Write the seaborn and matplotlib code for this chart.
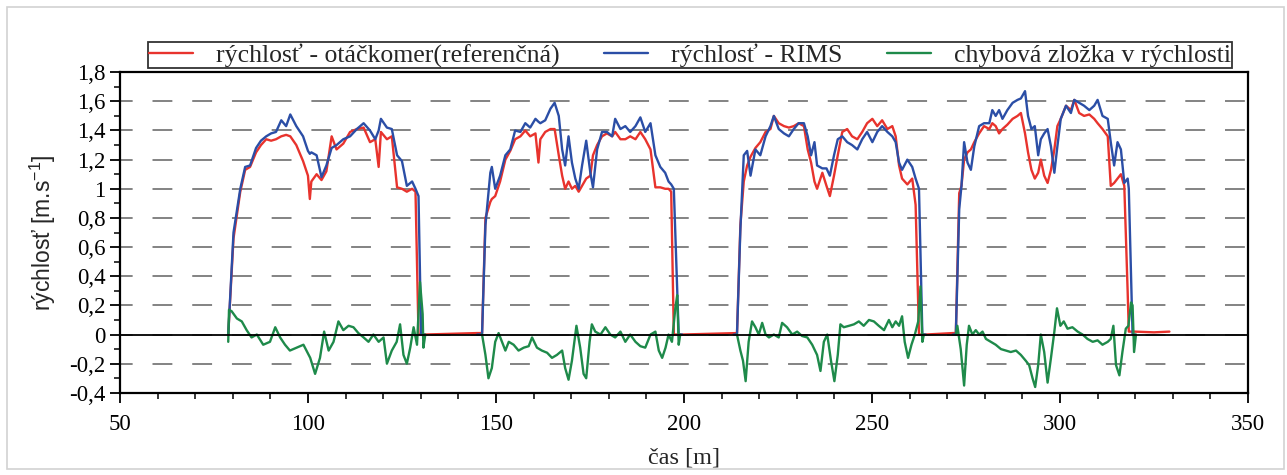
import numpy as np
import pandas as pd
import matplotlib
matplotlib.use("Agg")
import matplotlib.pyplot as plt
import seaborn as sns
from matplotlib.lines import Line2D
from matplotlib.patches import Rectangle
from matplotlib.ticker import MultipleLocator

#------------------------------------------------------------------------------------------
# values (t = čas [m], v = rýchlosť [m/s])

# hump 1
t1    = [78.8, 80.2, 82.0, 83.3, 84.6, 86.2, 87.5, 88.9, 90.2, 91.5, 92.9, 94.2, 95.3, 96.9, 98.7,
         100.0, 100.5, 100.9, 102.3, 103.6, 104.9, 106.3, 107.6, 109.4, 111.2, 113.0, 114.8, 116.5,
         117.9, 118.8, 119.4, 121.0, 122.3, 123.7, 125.0, 126.3, 127.7, 128.6, 129.4, 130.1, 131.0]
ref1  = [0.00, 0.66, 0.98, 1.13, 1.15, 1.25, 1.30, 1.34, 1.33, 1.34, 1.36, 1.37, 1.36, 1.30, 1.19,
         1.09, 0.93, 1.05, 1.10, 1.06, 1.12, 1.36, 1.27, 1.31, 1.39, 1.41, 1.42, 1.32,
         1.34, 1.15, 1.39, 1.34, 1.36, 1.01, 1.00, 0.98, 1.00, 0.98, 0.00, 0.00, 0.00]
rims1 = [0.00, 0.70, 1.00, 1.15, 1.16, 1.28, 1.33, 1.36, 1.38, 1.39, 1.47, 1.43, 1.51, 1.43, 1.36,
         1.26, 1.24, 1.25, 1.23, 1.08, 1.16, 1.28, 1.30, 1.34, 1.36, 1.41, 1.45, 1.40,
         1.34, 1.40, 1.48, 1.42, 1.41, 1.23, 1.19, 1.02, 1.05, 1.00, 0.95, 0.00, 0.00]
et1   = [78.8, 79.0, 79.7, 81.1, 82.4, 83.7, 85.0, 86.4, 88.1, 89.9, 91.3, 92.6, 93.9, 95.2, 97.0,
         98.8, 100.6, 101.9, 103.2, 104.3, 105.5, 106.8, 108.1, 109.4, 110.8, 112.1, 113.4, 114.8,
         116.1, 117.4, 118.8, 120.1, 121.0, 122.3, 123.6, 124.5, 125.4, 126.3, 127.2, 128.1, 129.0,
         129.8, 130.5, 130.7, 131.2]
err1  = [-0.05, 0.17, 0.16, 0.11, 0.09, 0.03, -0.02, 0.00, -0.07, -0.05, 0.05, -0.02, -0.07, -0.11, -0.09,
         -0.07, -0.16, -0.27, -0.16, 0.02, -0.11, -0.05, 0.09, 0.03, 0.06, 0.05, 0.01, -0.02,
         -0.05, 0.00, -0.05, -0.02, -0.20, -0.11, -0.05, 0.07, -0.14, -0.20, -0.09, 0.05, -0.07,
         0.36, 0.14, -0.09, 0.00]

# hump 2
t2    = [145.0, 146.3, 147.2, 148.5, 148.9, 149.8, 151.1, 152.5, 153.8, 155.1,
         156.5, 157.8, 159.1, 160.5, 161.3, 161.8, 163.1, 164.5, 165.6, 166.7,
         167.6, 168.4, 169.3, 170.2, 171.1, 172.0, 172.9, 174.0, 175.1, 175.8,
         176.9, 178.2, 179.5, 180.9, 181.7, 183.1, 184.4, 185.7, 187.1, 188.4,
         189.7, 191.1, 192.4, 193.7, 195.0, 195.9, 196.6, 197.3, 198.6, 199.5]
ref2  = [0.01, 0.01, 0.80, 0.91, 0.93, 0.95, 1.05, 1.20, 1.26, 1.34,
         1.36, 1.40, 1.36, 1.38, 1.18, 1.34, 1.39, 1.41, 1.41, 1.23,
         1.09, 1.00, 1.05, 1.00, 1.02, 0.98, 1.02, 1.07, 1.09, 1.23,
         1.30, 1.36, 1.38, 1.36, 1.39, 1.34, 1.34, 1.36, 1.34, 1.39,
         1.34, 1.27, 1.01, 1.01, 1.00, 1.00, 0.98, 0.00, 0.00, 0.00]
rims2 = [0.00, 0.00, 0.75, 1.11, 1.15, 1.00, 1.09, 1.23, 1.27, 1.40,
         1.39, 1.45, 1.42, 1.48, 1.46, 1.45, 1.47, 1.55, 1.59, 1.50,
         1.27, 1.16, 1.36, 1.18, 1.07, 1.00, 1.16, 1.33, 1.11, 1.01,
         1.27, 1.39, 1.39, 1.36, 1.48, 1.41, 1.43, 1.39, 1.43, 1.49,
         1.39, 1.45, 1.23, 1.15, 1.11, 1.05, 1.03, 1.00, 0.00, 0.00]
et2   = [146.3, 147.2, 148.0, 148.9, 149.8, 150.7, 151.6, 152.5, 153.4, 154.7, 156.0, 157.4,
         158.7, 159.6, 160.9, 162.2, 163.6, 164.9, 166.2, 167.6, 168.4, 169.3, 170.2, 171.4,
         172.4, 173.3, 174.0, 174.9, 175.5, 176.4, 177.8, 179.1, 180.4, 181.7, 183.1, 184.4,
         185.7, 187.1, 188.4, 189.7, 191.1, 192.4, 193.3, 194.2, 195.1, 195.9, 196.8, 197.7,
         198.2, 198.6, 199.0]
err2  = [0.00, -0.14, -0.30, -0.23, -0.05, 0.01, -0.05, -0.11, -0.05, -0.07, -0.11, -0.09,
         -0.08, -0.02, -0.09, -0.11, -0.125, -0.16, -0.14, -0.11, -0.23, -0.31, -0.18, 0.06,
         -0.09, -0.27, -0.30, -0.05, 0.07, 0.02, 0.00, 0.05, 0.00, -0.02, 0.02, -0.05,
         0.00, -0.05, -0.08, -0.09, 0.00, 0.02, -0.11, -0.16, -0.09, 0.00, -0.05, 0.18,
         0.27, -0.07, 0.00]

# hump 3
t3    = [213.2, 214.1, 215.0, 215.9, 216.8, 217.7, 219.0, 220.3, 221.7, 223.0,
         223.9, 225.2, 226.6, 227.9, 229.2, 230.5, 231.9, 232.9, 233.8, 234.7,
         235.4, 236.8, 237.9, 238.8, 239.9, 240.9, 242.1, 243.4, 244.7, 246.1,
         247.4, 248.7, 250.1, 251.4, 252.7, 254.1, 255.4, 256.3, 257.2, 258.0,
         259.4, 260.7, 261.6, 262.5, 263.4, 264.3]
ref3  = [0.01, 0.01, 0.75, 1.05, 1.16, 1.22, 1.28, 1.32, 1.39, 1.41,
         1.50, 1.45, 1.43, 1.42, 1.43, 1.45, 1.43, 1.27, 1.18, 1.05,
         1.00, 1.11, 1.02, 0.95, 1.09, 1.23, 1.39, 1.41, 1.36, 1.34,
         1.39, 1.45, 1.48, 1.43, 1.47, 1.41, 1.43, 1.36, 1.16, 1.07,
         1.03, 1.07, 0.89, 0.00, 0.00, 0.00]
rims3 = [0.00, 0.00, 0.72, 1.23, 1.26, 1.09, 1.27, 1.23, 1.36, 1.43,
         1.50, 1.41, 1.38, 1.36, 1.41, 1.45, 1.45, 1.36, 1.23, 1.32,
         1.16, 1.14, 1.14, 1.09, 1.23, 1.34, 1.36, 1.32, 1.30, 1.27,
         1.34, 1.39, 1.32, 1.39, 1.43, 1.39, 1.36, 1.32, 1.18, 1.13,
         1.20, 1.15, 1.07, 1.00, 0.00, 0.00]
et3   = [214.1, 215.0, 215.7, 216.4, 217.2, 218.1, 219.0, 219.9, 220.8, 221.7, 222.6, 223.9,
         225.2, 226.1, 227.4, 228.8, 230.1, 231.4, 232.8, 234.1, 235.4, 236.3, 237.2, 238.1,
         239.1, 240.0, 240.9, 241.6, 242.5, 243.9, 245.2, 246.5, 247.8, 249.2, 250.5, 251.8,
         253.2, 254.5, 255.4, 256.3, 257.2, 258.0, 258.7, 259.6, 260.5, 261.4, 262.3, 262.9,
         263.4, 263.8]
err3  = [0.00, -0.11, -0.18, -0.32, -0.05, 0.09, 0.05, 0.00, 0.08, 0.00, -0.02, 0.00,
         -0.02, 0.08, 0.05, 0.00, 0.02, -0.01, -0.02, -0.07, -0.14, -0.25, -0.05, 0.00,
         -0.18, -0.32, -0.14, 0.07, 0.05, 0.06, 0.07, 0.09, 0.06, 0.10, 0.09, 0.06,
         0.03, 0.10, 0.05, 0.09, 0.06, 0.125, -0.05, -0.16, -0.07, 0.00, 0.09, 0.33,
         -0.05, 0.00]

# hump 4
t4    = [271.5, 272.3, 273.2, 273.8, 274.5, 275.4, 276.3, 277.2, 278.5, 279.8,
         281.2, 282.0, 282.9, 283.8, 284.7, 286.0, 287.4, 288.7, 289.6, 290.7,
         291.5, 292.4, 293.3, 294.2, 294.9, 295.8, 296.7, 297.6, 298.5, 299.3,
         300.2, 301.6, 302.9, 303.8, 305.1, 306.4, 307.8, 309.1, 310.0, 311.3,
         312.7, 313.5, 314.4, 315.3, 316.2, 317.1, 318.0, 318.3, 319.3, 320.0]
ref4  = [0.01, 0.01, 0.97, 1.02, 1.20, 1.25, 1.27, 1.32, 1.38, 1.43,
         1.41, 1.45, 1.43, 1.38, 1.41, 1.44, 1.48, 1.50, 1.52, 1.38,
         1.25, 1.13, 1.07, 1.11, 1.20, 1.09, 1.04, 1.13, 1.27, 1.43,
         1.48, 1.57, 1.54, 1.61, 1.52, 1.50, 1.51, 1.48, 1.45, 1.41,
         1.36, 1.02, 1.04, 1.07, 1.10, 1.02, 0.29, 0.02, 0.02, 0.02]
rims4 = [0.00, 0.00, 0.86, 1.02, 1.32, 1.18, 1.13, 1.29, 1.43, 1.45,
         1.45, 1.54, 1.50, 1.54, 1.48, 1.54, 1.59, 1.61, 1.62, 1.67,
         1.50, 1.41, 1.43, 1.23, 1.34, 1.38, 1.41, 1.29, 1.11, 1.29,
         1.48, 1.57, 1.52, 1.61, 1.59, 1.57, 1.54, 1.57, 1.61, 1.50,
         1.48, 1.32, 1.16, 1.32, 1.27, 1.04, 1.07, 1.00, 0.00, 0.00]
et4   = [272.3, 272.7, 273.6, 274.5, 275.2, 275.8, 276.7, 277.6, 278.5, 279.4, 280.3, 281.6,
         282.9, 284.3, 285.6, 286.9, 288.3, 289.6, 290.9, 291.8, 292.7, 293.4, 294.2, 294.9,
         295.8, 296.7, 297.6, 298.5, 299.2, 300.1, 301.0, 302.0, 303.3, 304.7, 306.0, 307.3,
         308.7, 310.0, 311.3, 312.7, 313.5, 314.2, 314.9, 315.8, 316.6, 317.5, 318.2, 318.9,
         319.3, 319.7, 320.2]
err4  = [0.00, 0.06, -0.10, -0.35, -0.07, 0.06, 0.00, 0.03, 0.00, 0.02, -0.03, -0.05,
         -0.07, -0.10, -0.11, -0.12, -0.11, -0.14, -0.18, -0.21, -0.30, -0.36, -0.21, 0.00,
         -0.12, -0.33, -0.16, 0.02, 0.18, 0.06, 0.09, 0.04, 0.05, 0.02, 0.00, -0.03,
         -0.05, -0.04, -0.07, -0.05, -0.03, 0.06, -0.21, -0.28, -0.12, 0.04, 0.06, 0.22,
         0.20, -0.12, 0.00]

# reference speed keeps logging a little after the last run
ref_tail_t = [325.0, 329.1]
ref_tail_v = [0.015, 0.02]

labels = ["rýchlosť - otáčkomer(referenčná)", "rýchlosť - RIMS", "chybová zložka v rýchlosti"]
y_ticks = [-0.4, -0.2, 0, 0.2, 0.4, 0.6, 0.8, 1, 1.2, 1.4, 1.6, 1.8]
y_ticklabels = ["-0,4", "-0,2", "0", "0,2", "0,4", "0,6", "0,8", "1", "1,2", "1,4", "1,6", "1,8"]
x_ticks = [50, 100, 150, 200, 250, 300, 350]

#------------------------------------------------------------------------------------------

frames = []
ref_t = t1 + t2 + t3 + t4 + ref_tail_t
ref_v = ref1 + ref2 + ref3 + ref4 + ref_tail_v
frames.append(pd.DataFrame({"t": ref_t, "v": ref_v, "series": labels[0], "seg": 0}))
for i, (t, v) in enumerate([(t1, rims1), (t2, rims2), (t3, rims3), (t4, rims4)]):
    frames.append(pd.DataFrame({"t": t, "v": v, "series": labels[1], "seg": i}))
for i, (t, v) in enumerate([(et1, err1), (et2, err2), (et3, err3), (et4, err4)]):
    frames.append(pd.DataFrame({"t": t, "v": v, "series": labels[2], "seg": i}))
df = pd.concat(frames, ignore_index=True)

colors = {labels[0]: "#e8332d", labels[1]: "#2b4ea6", labels[2]: "#1e8a4a"}

sns.set_style("ticks")
plt.rcParams["font.family"] = ["Liberation Serif", "DejaVu Serif"]

fig = plt.figure(figsize=(12.87, 4.75), dpi=100)
ax = fig.add_axes([0.0932, 0.173, 0.8765, 0.675])

for lab in labels:
    sns.lineplot(data=df[df["series"] == lab], x="t", y="v", units="seg", estimator=None,
                 sort=False, color=colors[lab], lw=1.7, ax=ax, legend=False)
ax.axhline(0, color="black", lw=1.3, zorder=2.5)

ax.set_xlim(50, 350)
ax.set_ylim(-0.4, 1.8)
ax.set_yticks(y_ticks)
ax.set_yticklabels(y_ticklabels)
ax.set_xticks(x_ticks)
ax.xaxis.set_minor_locator(MultipleLocator(10))
ax.yaxis.set_minor_locator(MultipleLocator(0.1))
ax.tick_params(axis="both", which="major", direction="out", length=7, width=1.3,
               labelsize=16.5, colors="black")
ax.tick_params(axis="x", which="major", pad=8)
ax.tick_params(axis="both", which="minor", direction="out", length=4, width=1.3)
ax.yaxis.grid(True, which="major", color="#7a7a7a", lw=1.3, ls=(4, (11, 11)))
for s in ax.spines.values():
    s.set_visible(True)
    s.set_linewidth(1.6)
    s.set_color("black")

ax.set_xlabel("čas [m]", fontsize=17.5, labelpad=9)
ax.set_ylabel(r"rýchlosť [m.s$^{\mathregular{-1}}$]", fontsize=16.5,
              family=["Liberation Sans", "DejaVu Sans"], labelpad=8)

handles = [Line2D([], [], color=colors[l], lw=1.7) for l in labels]
leg = ax.legend(handles, labels, loc="lower left", bbox_to_anchor=(0.025, 1.012, 0.961, 0.081),
                mode="expand", ncol=3, fontsize=18.5, frameon=True, fancybox=False,
                handlelength=1.7, handletextpad=0.9, borderaxespad=0, borderpad=0.05,
                columnspacing=1.0)
leg.get_frame().set_edgecolor("black")
leg.get_frame().set_linewidth(1.3)

fig.patches.append(Rectangle((0.0055, 0.013), 0.9925, 0.972, transform=fig.transFigure,
                             fill=False, ec="#d2d2d2", lw=1.2))

fig.savefig("out.png", dpi=100)
